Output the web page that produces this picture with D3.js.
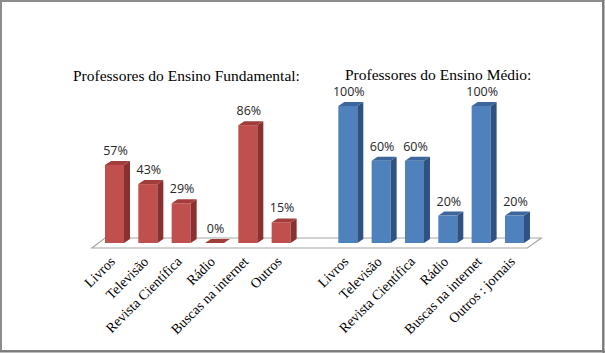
<!DOCTYPE html>
<html><head><meta charset="utf-8">
<script src="https://cdn.jsdelivr.net/npm/d3@7"></script>
<style>html,body{margin:0;padding:0;background:#fff;}svg{display:block;}</style>
</head><body>
<script>
// ---- data ----
const categories = ["Livros","Televisão","Revista Científica","Rádio","Buscas na internet","Outros","",
                    "Livros","Televisão","Revista Científica","Rádio","Buscas na internet","Outros : jornais"];
const fundamentalValues = [57,43,29,0,86,15];
const medioValues = [100,60,60,20,100,20];
const groupTitles = ["Professores do Ensino Fundamental:","Professores do Ensino Médio:"];
const valueDomain = [0,100];

const W=605,H=353;
const svg=d3.select("body").append("svg").attr("width",W).attr("height",H);

// series table built from arrays
const rows=[];
fundamentalValues.forEach((v,i)=>rows.push({idx:i,v,s:0}));
medioValues.forEach((v,i)=>rows.push({idx:i+7,v,s:1}));

const colors=[
  {front:"#c0504d",side:"#8a312f",top:"#a13e3b"},
  {front:"#4f81bd",side:"#2f5283",top:"#3d679c"}
];

const x=d3.scaleBand().domain(d3.range(categories.length)).range([101,534.3]).padding(0);
const y=d3.scaleLinear().domain(valueDomain).range([243,106]);
const bw=19, dx=6, dy=4, off=4;

// border
svg.append("rect").attr("x",1).attr("y",1).attr("width",W-3).attr("height",H-3)
  .attr("fill","#fff").attr("stroke","#8c8c8c").attr("stroke-width",2);
svg.append("line").attr("x1",W-1.5).attr("x2",W-1.5).attr("y1",0).attr("y2",H).attr("stroke","#7a7a7a").attr("stroke-width",2);
svg.append("line").attr("x1",0).attr("x2",W).attr("y1",H-1.5).attr("y2",H-1.5).attr("stroke","#7a7a7a").attr("stroke-width",2);

// floor
const fl=x.range()[0]-9, fr=x.range()[1]-7, fy=248, by=238;
svg.append("path")
  .attr("d",`M${fl},${fy}L${fr},${fy}L${fr+14},${by}L${fl+13},${by}Z`)
  .attr("fill","#fff").attr("stroke","#a6a6a6").attr("stroke-width",1.2);

// bars
const g=svg.append("g");
rows.forEach(d=>{
  const c=colors[d.s];
  const x0=x(d.idx)+off, x1=x0+bw, yb=y(0);
  const top=y(d.v);
  if(d.v>0){
    g.append("rect").attr("x",x0).attr("y",top).attr("width",bw).attr("height",yb-top).attr("fill",c.front);
    g.append("path").attr("d",`M${x1},${top}L${x1+dx},${top-dy}L${x1+dx},${yb-dy}L${x1},${yb}Z`).attr("fill",c.side);
  }
  g.append("path").attr("d",`M${x0},${top}L${x1},${top}L${x1+dx},${top-dy}L${x0+dx},${top-dy}Z`).attr("fill",c.top);
  g.append("text").attr("x",x0+bw/2+1).attr("y",top-dy-6)
    .attr("text-anchor","middle").attr("font-family","'Open Sans',sans-serif").attr("font-size",12.5)
    .attr("fill","#262626").text(d.v+"%");
});

// category labels
categories.forEach((c,i)=>{
  if(!c) return;
  const cx=x(i)+off+bw/2-2, cy=259;
  svg.append("text").attr("transform",`translate(${cx},${cy}) rotate(-45)`)
    .attr("text-anchor","end").attr("dy","0.35em")
    .attr("font-family","'Liberation Serif','Times New Roman',serif").attr("font-size",14)
    .attr("fill","#000").text(c);
});

// titles
svg.append("text").attr("x",73).attr("y",81).attr("font-family","'Liberation Serif','Times New Roman',serif")
  .attr("font-size",15.5).attr("fill","#000").text(groupTitles[0]);
svg.append("text").attr("x",345).attr("y",80).attr("font-family","'Liberation Serif','Times New Roman',serif")
  .attr("font-size",15.5).attr("fill","#000").text(groupTitles[1]);
</script>
</body></html>
